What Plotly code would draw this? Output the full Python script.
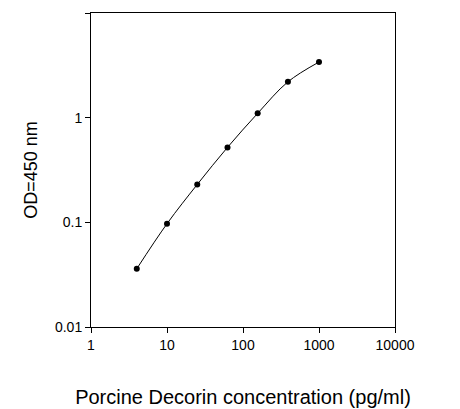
import plotly.graph_objects as go

conc = [4, 10, 25, 62.5, 156, 390, 1000]
od = [0.036, 0.097, 0.23, 0.52, 1.1, 2.2, 3.4]
xticks = [1, 10, 100, 1000, 10000]
yticks = [0.01, 0.1, 1, 10]

fig = go.Figure(go.Scatter(x=conc, y=od, mode="lines+markers",
    line=dict(color="black", width=1, shape="spline"),
    marker=dict(color="black", size=6)))
ax = dict(type="log", showgrid=False, zeroline=False, showline=True, linecolor="black",
          linewidth=1, mirror=True, ticks="outside", ticklen=5, tickcolor="black",
          tickfont=dict(size=14, color="black"))
fig.update_xaxes(**ax, range=[0, 4], tickvals=xticks, ticktext=[str(v) for v in xticks],
    title=dict(text="Porcine Decorin concentration (pg/ml)", font=dict(size=20, color="black"), standoff=38))
fig.update_yaxes(**ax, range=[-2, 1], tickvals=yticks, ticktext=["0.01", "0.1", "1", "10"],
    title=dict(text="OD=450 nm", font=dict(size=18, color="black"), standoff=12))
fig.update_layout(width=460, height=409, margin=dict(l=83, r=73, t=5, b=90),
    plot_bgcolor="white", paper_bgcolor="white", showlegend=False,
    font=dict(family="Liberation Sans, Arial, sans-serif"))
fig.write_html("out.html")
